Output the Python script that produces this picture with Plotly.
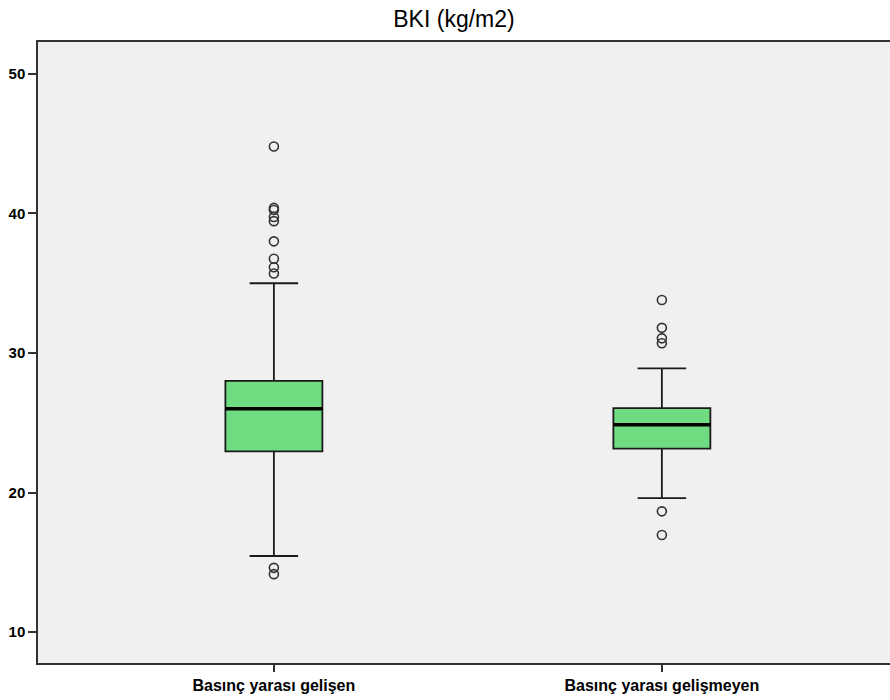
import plotly.graph_objects as go

categories = ["Basınç yarası gelişen", "Basınç yarası gelişmeyen"]
q1 = [22.95, 23.15]
median = [26.0, 24.85]
q3 = [28.0, 26.05]
lower_fence = [15.45, 19.6]
upper_fence = [35.0, 28.9]

outliers_1 = [44.8, 40.4, 40.25, 39.75, 39.45, 38.0, 36.75, 36.15, 35.7, 14.6, 14.15]
outliers_2 = [33.8, 31.8, 31.05, 30.7, 18.65, 16.95]

y_ticks = [10, 20, 30, 40, 50]

fig = go.Figure()

fig.add_trace(go.Box(
    x=categories, q1=q1, median=median, q3=q3,
    lowerfence=lower_fence, upperfence=upper_fence,
    boxpoints=False, width=0.25, whiskerwidth=0.5,
    fillcolor="#70dc82", line=dict(color="#1a1a1a", width=1.8),
    showlegend=False, hoverinfo="skip",
))
# thick median line overlay
fig.add_trace(go.Box(
    x=categories, q1=median, median=median, q3=median,
    lowerfence=median, upperfence=median,
    boxpoints=False, width=0.25, whiskerwidth=0,
    fillcolor="rgba(0,0,0,0)", line=dict(color="#000000", width=3.5),
    showlegend=False, hoverinfo="skip",
))

ox = [categories[0]] * len(outliers_1) + [categories[1]] * len(outliers_2)
oy = outliers_1 + outliers_2
fig.add_trace(go.Scatter(
    x=ox, y=oy, mode="markers",
    marker=dict(symbol="circle-open", size=9, color="#333333", line=dict(width=1.6)),
    showlegend=False, hoverinfo="skip",
))

fig.update_layout(
    width=890, height=700,
    margin=dict(l=38, r=0, t=42, b=37),
    paper_bgcolor="white", plot_bgcolor="#f0f0f0",
    boxmode="overlay",
    title=dict(text="BKI (kg/m2)", x=454/890, xanchor="center", xref="container",
               y=0.9736, yanchor="middle", yref="container",
               font=dict(family="Liberation Sans, Arial", size=23, color="#000000")),
    font=dict(family="Liberation Sans, Arial", color="#000000"),
)
fig.update_xaxes(
    type="category", range=[-0.608, 1.588],
    showline=True, linecolor="#333333", linewidth=1.5, mirror=True,
    ticks="outside", ticklen=7, tickwidth=1.5, tickcolor="#333333",
    tickfont=dict(family="Liberation Sans, Arial", size=16, color="#000000", weight="bold"),
    showgrid=False, zeroline=False,
)
fig.update_yaxes(
    range=[7.78, 52.29], tickvals=y_ticks,
    showline=True, linecolor="#333333", linewidth=1.5, mirror=False,
    ticks="outside", ticklen=8, tickwidth=1.5, tickcolor="#333333",
    tickfont=dict(family="Liberation Sans, Arial", size=15, color="#000000", weight="bold"),
    showgrid=False, zeroline=False,
)

fig.write_html("out.html")
